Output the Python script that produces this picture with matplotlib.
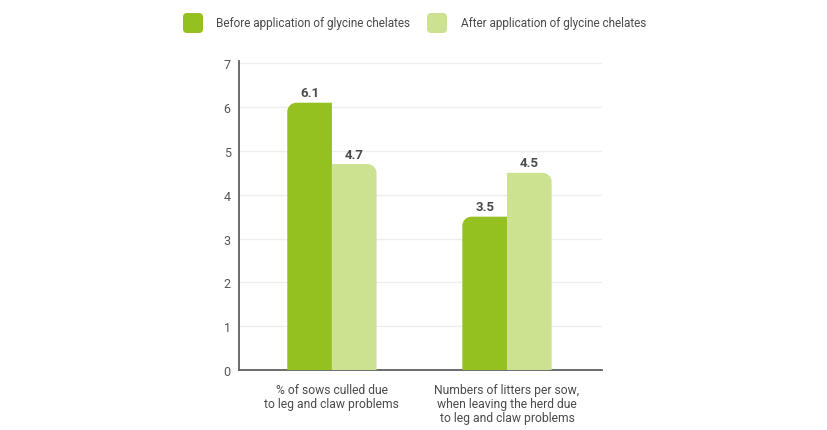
import matplotlib
matplotlib.use("Agg")
import matplotlib.pyplot as plt
from matplotlib.path import Path
from matplotlib.patches import PathPatch, FancyBboxPatch

plt.rcParams['font.family'] = ['Roboto', 'DejaVu Sans']

# data
categories = ["% of sows culled due\nto leg and claw problems",
              "Numbers of litters per sow,\nwhen leaving the herd due\nto leg and claw problems"]
series_names = ["Before application of glycine chelates",
                "After application of glycine chelates"]
before = [6.1, 3.5]
after = [4.7, 4.5]
yticks = [0, 1, 2, 3, 4, 5, 6, 7]

COLORS = {
    'dark': '#94c11f',
    'light': '#cce290',
    'text': '#4a4a4a',
    'tick': '#555555',
    'grid': '#eeeeee',
    'spine': '#606060',
}

W = 0.255
FIG_W, FIG_H = 828, 431


def round_top(ax, bar, side, rx, ry):
    # replace a plain bar with one that has a single rounded top corner
    x, y = bar.get_x(), bar.get_y()
    w, h = bar.get_width(), bar.get_height()
    k = 0.5523
    if side == 'left':
        verts = [(x + w, y), (x + w, y + h), (x + rx, y + h),
                 (x + rx - k * rx, y + h), (x, y + h - ry + k * ry), (x, y + h - ry),
                 (x, y), (x + w, y)]
    else:
        verts = [(x, y), (x, y + h), (x + w - rx, y + h),
                 (x + w - rx + k * rx, y + h), (x + w, y + h - ry + k * ry), (x + w, y + h - ry),
                 (x + w, y), (x, y)]
    codes = [Path.MOVETO, Path.LINETO, Path.LINETO,
             Path.CURVE4, Path.CURVE4, Path.CURVE4,
             Path.LINETO, Path.CLOSEPOLY]
    patch = PathPatch(Path(verts, codes), facecolor=bar.get_facecolor(),
                      edgecolor='none', zorder=3)
    ax.add_patch(patch)
    bar.set_visible(False)


def legend_item(fig, x_sq, x_txt, y_mid, color, label):
    # positions in pixels from the top-left corner
    s = 20
    fx, fy = x_sq / FIG_W, 1 - (y_mid + s / 2) / FIG_H
    sq = FancyBboxPatch((fx, fy), s / FIG_W, s / FIG_H,
                        boxstyle="round,pad=0,rounding_size=0.005",
                        transform=fig.transFigure, facecolor=color,
                        edgecolor='none', mutation_aspect=FIG_W / FIG_H)
    fig.patches.append(sq)
    fig.text(x_txt / FIG_W, 1 - y_mid / FIG_H, label, ha='left', va='center',
             fontsize=8.5, color=COLORS['text'])


fig = plt.figure(figsize=(8.28, 4.31), dpi=100)
ax = fig.add_axes([0.2886, 0.139, 0.4385, 0.717])

xs = list(range(len(categories)))
b1 = ax.bar([x - W / 2 for x in xs], before, W, color=COLORS['dark'], zorder=3)
b2 = ax.bar([x + W / 2 for x in xs], after, W, color=COLORS['light'], zorder=3)

ax.set_xlim(-0.531, 1.543)
ax.set_ylim(0, 7.05)

for bar in b1:
    round_top(ax, bar, 'left', 0.052, 0.205)
for bar in b2:
    round_top(ax, bar, 'right', 0.052, 0.205)

for bars, vals in [(b1, before), (b2, after)]:
    for bar, v in zip(bars, vals):
        ax.text(bar.get_x() + bar.get_width() / 2, v + 0.08, f"{v:.1f}",
                ha='center', va='bottom', fontsize=9.5, fontweight='bold',
                color=COLORS['text'])

ax.set_yticks(yticks)
ax.set_yticklabels([str(t) for t in yticks], fontsize=9, color=COLORS['tick'])
ax.set_xticks(xs)
ax.set_xticklabels(categories, fontsize=8.7, color=COLORS['text'], linespacing=1.1)
ax.tick_params(axis='y', length=0, pad=6)
ax.tick_params(axis='x', length=0, pad=9)

ax.grid(axis='y', color=COLORS['grid'], linewidth=1, zorder=0)
ax.set_axisbelow(True)
for s in ['top', 'right']:
    ax.spines[s].set_visible(False)
for s in ['left', 'bottom']:
    ax.spines[s].set_color(COLORS['spine'])
    ax.spines[s].set_linewidth(1.3)

# legend
legend_item(fig, 183, 216, 24, COLORS['dark'], series_names[0])
legend_item(fig, 427, 461, 24, COLORS['light'], series_names[1])

fig.savefig("out.png", dpi=100)
